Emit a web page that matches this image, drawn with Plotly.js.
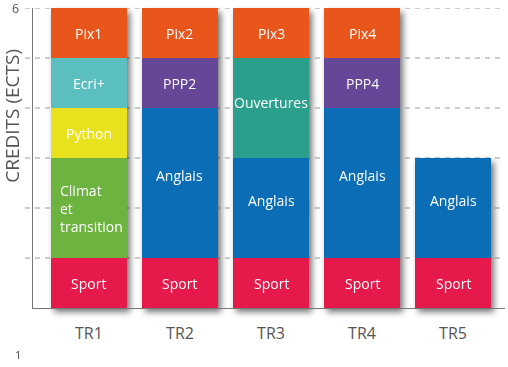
<!DOCTYPE html>
<html>
<head>
<meta charset="utf-8">
<script src="https://cdn.plot.ly/plotly-3.0.1.min.js"></script>
<style>
html,body{margin:0;padding:0;background:#fff;}
#chart{width:508px;height:367px;}
#chart .barlayer{filter:drop-shadow(3px 4px 3px rgba(0,0,0,0.55));}
</style>
</head>
<body>
<div id="chart"></div>
<script>
// ---- data ----
var categories = ['TR1','TR2','TR3','TR4','TR5'];
var sport      = [1,1,1,1,1];
var anglais    = [0,3,2,3,2];
var climat     = [2,0,0,0,0];
var python     = [1,0,0,0,0];
var ouvertures = [0,0,2,0,0];
var ecri       = [1,0,0,0,0];
var ppp        = [0,1,0,1,0];
var pix        = [1,1,1,1,0];

var sportLabels      = ['Sport','Sport','Sport','Sport','Sport'];
var anglaisLabels    = ['','Anglais','Anglais','Anglais','Anglais'];
var climatLabels     = ['Climat<br>et<br>transition','','','',''];
var pythonLabels     = ['Python','','','',''];
var ouverturesLabels = ['','','Ouvertures','',''];
var ecriLabels       = ['Ecri+','','','',''];
var pppLabels        = ['','PPP2','','PPP4',''];
var pixLabels        = ['Pix1','Pix2','Pix3','Pix4',''];

var yTicks = [1,2,3,4,5,6];
var yTickLabel = '6';
var yTitle = 'CREDITS (ECTS)';
var pageNumber = '1';

// ---- styling ----
var series = [
  {name:'Sport', v:sport, lab:sportLabels, color:'#E5194A', shift:0, xs:0},
  {name:'Anglais', v:anglais, lab:anglaisLabels, color:'#0A6DB5', shift:8, xs:0},
  {name:'Climat', v:climat, lab:climatLabels, color:'#6DB33F', shift:0, xs:3},
  {name:'Python', v:python, lab:pythonLabels, color:'#E8E21E', shift:0, xs:0},
  {name:'Ouvertures', v:ouvertures, lab:ouverturesLabels, color:'#2A9F8C', shift:6, xs:0},
  {name:'Ecri+', v:ecri, lab:ecriLabels, color:'#5BBFBF', shift:0, xs:0},
  {name:'PPP', v:ppp, lab:pppLabels, color:'#664696', shift:0, xs:0},
  {name:'Pix', v:pix, lab:pixLabels, color:'#E8561C', shift:0, xs:0}
];

var FONT = '"Open Sans", "Noto Sans", sans-serif';
var traces = [];
var annotations = [];
var cum = categories.map(function(){return 0;});
series.forEach(function(s){
  traces.push({
    type:'bar', x:categories, y:s.v, name:s.name, cliponaxis:false,
    marker:{color:s.color, line:{width:0}},
    hoverinfo:'none'
  });
  s.v.forEach(function(val,i){
    if(val>0 && s.lab[i]){
      annotations.push({
        x:categories[i], y:cum[i]+val/2, xref:'x', yref:'y',
        text:s.lab[i], showarrow:false, align:'left', yshift:s.shift, xshift:s.xs,
        font:{family:FONT, size:14, color:'#ffffff'}
      });
    }
    cum[i]+=val;
  });
});

var shapes = yTicks.map(function(t){
  return {type:'line', xref:'paper', yref:'y', x0:-0.017, x1:1, y0:t, y1:t,
    line:{color:'#9a9a9a', width:1, dash:'5px,5px'}, layer:'below'};
});

annotations.push({
  xref:'paper', yref:'y', x:-0.026, y:6, xanchor:'right', yanchor:'middle',
  text:yTickLabel, showarrow:false, font:{family:FONT, size:12.5, color:'#555555'}
});
annotations.push({
  xref:'paper', yref:'paper', x:-0.045, y:0.64, xanchor:'center', yanchor:'middle',
  text:yTitle, textangle:-90, showarrow:false,
  font:{family:FONT, size:19, color:'#555555'}
});
annotations.push({
  xref:'paper', yref:'paper', x:-0.031, y:-0.155, xanchor:'center', yanchor:'middle',
  text:pageNumber, showarrow:false, font:{family:FONT, size:11, color:'#444444'}
});

var layout = {
  width:508, height:367,
  margin:{l:33, r:3, t:8, b:59},
  paper_bgcolor:'#ffffff', plot_bgcolor:'#ffffff',
  barmode:'stack', bargap:0.165,
  showlegend:false,
  font:{family:FONT},
  xaxis:{
    type:'category', range:[-0.615, 4.571], showgrid:false, zeroline:false,
    showline:true, linecolor:'#777777', linewidth:1.3,
    ticks:'', ticklabelstandoff:10,
    tickfont:{family:FONT, size:16, color:'#555555'}
  },
  yaxis:{
    range:[0,6], showgrid:false, zeroline:false,
    showline:true, linecolor:'#777777', linewidth:1.5,
    showticklabels:false, ticks:''
  },
  shapes:shapes,
  annotations:annotations
};

Plotly.newPlot('chart', traces, layout, {staticPlot:true, displayModeBar:false}).then(function(gd){
  var bl = gd.querySelector('.barlayer');
  if(bl){
    var p = bl.parentNode;
    while(p && p.tagName && p.tagName.toLowerCase() !== 'svg'){
      if(p.getAttribute && p.getAttribute('clip-path')) p.removeAttribute('clip-path');
      p = p.parentNode;
    }
    bl.style.filter = 'drop-shadow(3px 4px 3px rgba(0,0,0,0.55))';
  }
});
</script>
</body>
</html>
